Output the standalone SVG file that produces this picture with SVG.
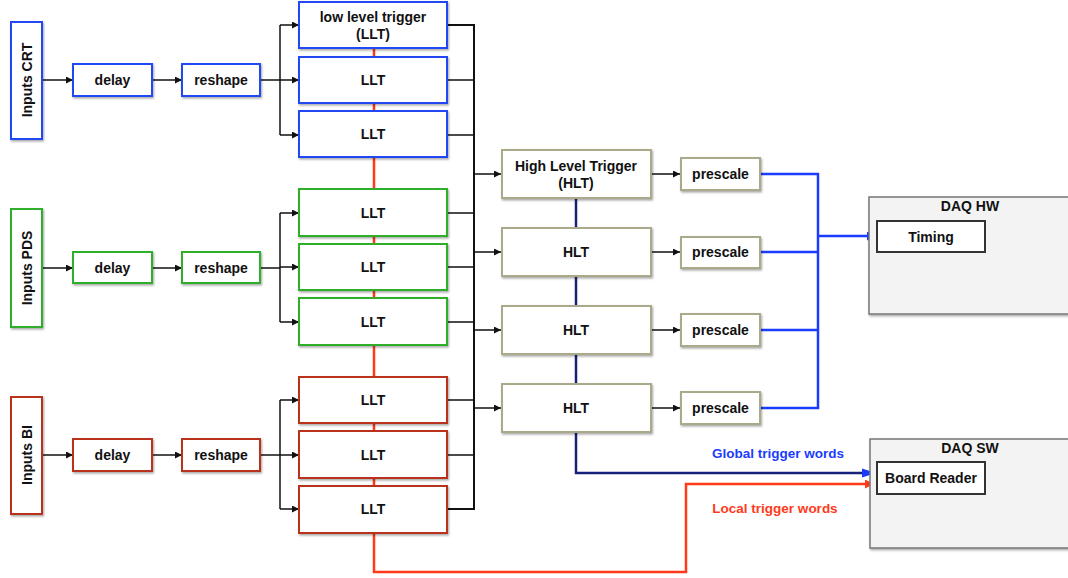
<svg xmlns="http://www.w3.org/2000/svg" width="1068" height="578" viewBox="0 0 1068 578">
<style>
text{font-family:"Liberation Sans",Arial,sans-serif;font-weight:bold;font-size:14px;fill:#111;text-anchor:middle;dominant-baseline:central}
.box{fill:#fff;stroke-width:2;filter:url(#sh)}
.crt{stroke:#2446f5}
.pds{stroke:#2fae2a}
.bi{stroke:#b8321f}
.hlt{stroke:#aaa98a}
.daq{fill:#f3f3f3;stroke:#777;stroke-width:1.5;filter:url(#sh)}
.inner{fill:#fff;stroke:#333;stroke-width:2}
.k{fill:none;stroke:#111;stroke-width:1.5}
.blue{fill:none;stroke:#1a3cff;stroke-width:2.5}
.navy{fill:none;stroke:#14227a;stroke-width:2.5}
.red{fill:none;stroke:#ff3a1a;stroke-width:2.5}
</style>
<defs>
<filter id="sh" x="-10%" y="-10%" width="130%" height="140%">
<feDropShadow dx="1" dy="1.5" stdDeviation="1" flood-color="#000" flood-opacity="0.35"/>
</filter>
<marker id="ak" viewBox="0 0 10 10" refX="10" refY="5" markerWidth="9" markerHeight="7" markerUnits="userSpaceOnUse" orient="auto"><path d="M0,0L10,5L0,10z" fill="#111"/></marker>
<marker id="ab" viewBox="0 0 10 10" refX="10" refY="5" markerWidth="11" markerHeight="9" markerUnits="userSpaceOnUse" orient="auto"><path d="M0,0L10,5L0,10z" fill="#1a3cff"/></marker>
<marker id="ar" viewBox="0 0 10 10" refX="10" refY="5" markerWidth="11" markerHeight="9" markerUnits="userSpaceOnUse" orient="auto"><path d="M0,0L10,5L0,10z" fill="#ff3a1a"/></marker>
</defs>
<rect width="1068" height="578" fill="#fff"/>

<g id="connectors">
<!-- red local trigger line -->
<path class="red" d="M374,49V572H686V484H874" marker-end="url(#ar)"/>
<!-- navy HLT chain / global trigger -->
<path class="navy" d="M576,198V473H874"/>
<path d="M862,468.5L876,473L862,477.5z" fill="#1a3cff"/>
<!-- CRT -->
<path class="k" d="M42,80H73" marker-end="url(#ak)"/>
<path class="k" d="M152,80H182" marker-end="url(#ak)"/>
<path class="k" d="M260,80H280"/>
<path class="k" d="M280,25V135"/>
<path class="k" d="M280,25H299" marker-end="url(#ak)"/>
<path class="k" d="M280,80H299" marker-end="url(#ak)"/>
<path class="k" d="M280,135H299" marker-end="url(#ak)"/>
<!-- PDS -->
<path class="k" d="M42,268H73" marker-end="url(#ak)"/>
<path class="k" d="M152,268H182" marker-end="url(#ak)"/>
<path class="k" d="M260,268H280"/>
<path class="k" d="M280,213V322"/>
<path class="k" d="M280,213H299" marker-end="url(#ak)"/>
<path class="k" d="M280,267H299" marker-end="url(#ak)"/>
<path class="k" d="M280,322H299" marker-end="url(#ak)"/>
<!-- BI -->
<path class="k" d="M42,455H73" marker-end="url(#ak)"/>
<path class="k" d="M152,455H182" marker-end="url(#ak)"/>
<path class="k" d="M260,455H280"/>
<path class="k" d="M280,400V509"/>
<path class="k" d="M280,400H299" marker-end="url(#ak)"/>
<path class="k" d="M280,455H299" marker-end="url(#ak)"/>
<path class="k" d="M280,509H299" marker-end="url(#ak)"/>
<!-- LLT outputs to bus -->
<path class="k" d="M447,25H474V509H447" style="stroke-width:2"/>
<path class="k" d="M447,80H474M447,135H474M447,213H474M447,267H474M447,322H474M447,400H474M447,455H474"/>
<path class="k" d="M474,174H501" marker-end="url(#ak)"/>
<path class="k" d="M474,252H501" marker-end="url(#ak)"/>
<path class="k" d="M474,330H501" marker-end="url(#ak)"/>
<path class="k" d="M474,408H501" marker-end="url(#ak)"/>
<!-- HLT to prescale -->
<path class="k" d="M651,174H680" marker-end="url(#ak)"/>
<path class="k" d="M651,252H680" marker-end="url(#ak)"/>
<path class="k" d="M651,330H680" marker-end="url(#ak)"/>
<path class="k" d="M651,408H680" marker-end="url(#ak)"/>
<!-- prescale to timing -->
<path class="blue" d="M760,174H818V408H760"/>
<path class="blue" d="M760,252H818M760,330H818"/>
<path class="blue" d="M818,236H876" marker-end="url(#ab)"/>
</g>

<g id="inputs-crt"><rect class="box crt" x="11" y="22" width="31" height="117"/><text transform="translate(27,80) rotate(-90)">Inputs CRT</text></g>
<g id="delay-crt"><rect class="box crt" x="73" y="64" width="79" height="32"/><text x="112.5" y="80">delay</text></g>
<g id="reshape-crt"><rect class="box crt" x="182" y="64" width="78" height="32"/><text x="221" y="80">reshape</text></g>
<g id="llt-crt-1"><rect class="box crt" x="299" y="2" width="148" height="46"/><text x="373" y="17">low level trigger</text><text x="373" y="34">(LLT)</text></g>
<g id="llt-crt-2"><rect class="box crt" x="299" y="57" width="148" height="46"/><text x="373" y="80">LLT</text></g>
<g id="llt-crt-3"><rect class="box crt" x="299" y="111" width="148" height="46"/><text x="373" y="134">LLT</text></g>

<g id="inputs-pds"><rect class="box pds" x="11" y="209" width="31" height="118"/><text transform="translate(27,268) rotate(-90)">Inputs PDS</text></g>
<g id="delay-pds"><rect class="box pds" x="73" y="252" width="79" height="31"/><text x="112.5" y="268">delay</text></g>
<g id="reshape-pds"><rect class="box pds" x="182" y="252" width="78" height="31"/><text x="221" y="268">reshape</text></g>
<g id="llt-pds-1"><rect class="box pds" x="299" y="189" width="148" height="47"/><text x="373" y="213">LLT</text></g>
<g id="llt-pds-2"><rect class="box pds" x="299" y="244" width="148" height="46"/><text x="373" y="267">LLT</text></g>
<g id="llt-pds-3"><rect class="box pds" x="299" y="298" width="148" height="47"/><text x="373" y="322">LLT</text></g>

<g id="inputs-bi"><rect class="box bi" x="11" y="397" width="31" height="117"/><text transform="translate(27,455) rotate(-90)">Inputs BI</text></g>
<g id="delay-bi"><rect class="box bi" x="73" y="439" width="79" height="32"/><text x="112.5" y="455">delay</text></g>
<g id="reshape-bi"><rect class="box bi" x="182" y="439" width="78" height="32"/><text x="221" y="455">reshape</text></g>
<g id="llt-bi-1"><rect class="box bi" x="299" y="377" width="148" height="46"/><text x="373" y="400">LLT</text></g>
<g id="llt-bi-2"><rect class="box bi" x="299" y="431" width="148" height="47"/><text x="373" y="455">LLT</text></g>
<g id="llt-bi-3"><rect class="box bi" x="299" y="486" width="148" height="47"/><text x="373" y="509">LLT</text></g>

<g id="hlt-1"><rect class="box hlt" x="502" y="150" width="149" height="48"/><text x="576" y="166">High Level Trigger</text><text x="576" y="183">(HLT)</text></g>
<g id="hlt-2"><rect class="box hlt" x="502" y="228" width="149" height="48"/><text x="576" y="252">HLT</text></g>
<g id="hlt-3"><rect class="box hlt" x="502" y="306" width="149" height="48"/><text x="576" y="330">HLT</text></g>
<g id="hlt-4"><rect class="box hlt" x="502" y="384" width="149" height="48"/><text x="576" y="408">HLT</text></g>

<g id="prescale-1"><rect class="box hlt" x="681" y="158" width="79" height="32"/><text x="720.5" y="174">prescale</text></g>
<g id="prescale-2"><rect class="box hlt" x="681" y="237" width="79" height="31"/><text x="720.5" y="252">prescale</text></g>
<g id="prescale-3"><rect class="box hlt" x="681" y="314" width="79" height="32"/><text x="720.5" y="330">prescale</text></g>
<g id="prescale-4"><rect class="box hlt" x="681" y="392" width="79" height="32"/><text x="720.5" y="408">prescale</text></g>

<g id="daq-hw"><rect class="daq" x="869" y="197" width="210" height="117"/><text x="970" y="206">DAQ HW</text></g>
<g id="timing"><rect class="inner" x="877" y="221" width="108" height="31"/><text x="931" y="237">Timing</text></g>
<g id="daq-sw"><rect class="daq" x="870" y="439" width="210" height="109"/><text x="970" y="448">DAQ SW</text></g>
<g id="board-reader"><rect class="inner" x="877" y="462" width="108" height="32"/><text x="931" y="478">Board Reader</text></g>

<g id="labels">
<text x="778" y="453" style="fill:#1a3cff;font-size:13.5px">Global trigger words</text>
<text x="775" y="508" style="fill:#ff3a1a;font-size:13.5px">Local trigger words</text>
</g>
</svg>
